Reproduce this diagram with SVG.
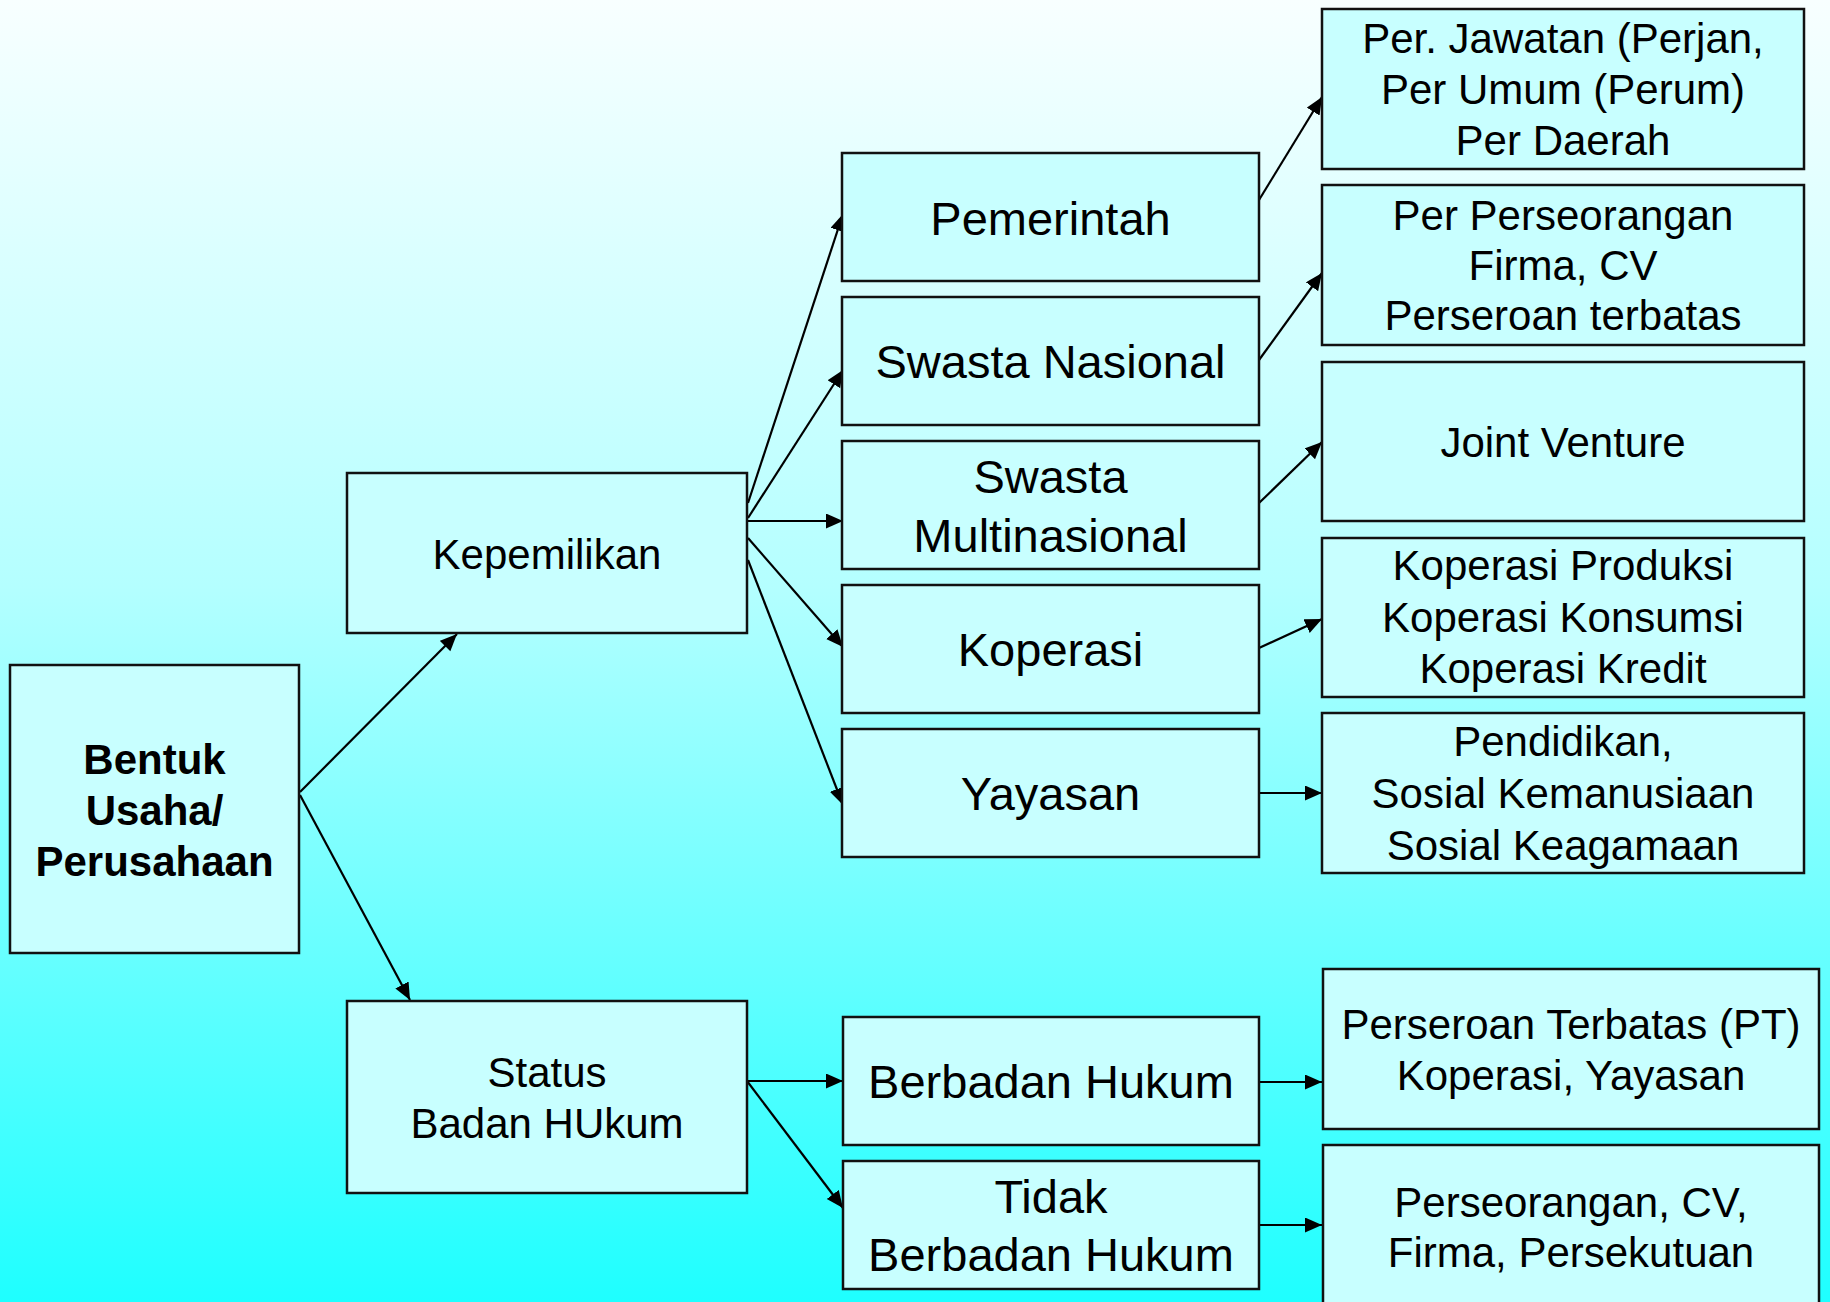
<svg xmlns="http://www.w3.org/2000/svg" width="1830" height="1302" viewBox="0 0 1830 1302">
<style>
.box{fill:#c8ffff;stroke:#111;stroke-width:2.5}
.t{font-family:"Liberation Sans",Arial,sans-serif;fill:#000;text-anchor:middle}
.s{font-size:42px}
.m{font-size:47px}
.b{font-size:42px;font-weight:bold}
.c{stroke:#000;stroke-width:2.2;fill:none;marker-end:url(#ah)}
</style>
<defs>
<linearGradient id="bg" x1="0" y1="0" x2="0" y2="1">
<stop offset="0" stop-color="#f8ffff"/>
<stop offset="0.45" stop-color="#b4ffff"/>
<stop offset="1" stop-color="#1effff"/>
</linearGradient>
<marker id="ah" markerUnits="userSpaceOnUse" markerWidth="18" markerHeight="16" refX="17" refY="7.5" orient="auto">
<path d="M0,0 L17,7.5 L0,15 z" fill="#000"/>
</marker>
</defs>
<rect x="0" y="0" width="1830" height="1302" fill="url(#bg)"/>

<g id="connectors">
<line class="c" x1="300" y1="792" x2="457" y2="634"/>
<line class="c" x1="300" y1="795" x2="410" y2="1000"/>
<line class="c" x1="748" y1="503" x2="843" y2="214"/>
<line class="c" x1="748" y1="518" x2="843" y2="370"/>
<line class="c" x1="748" y1="521" x2="843" y2="521"/>
<line class="c" x1="748" y1="538" x2="843" y2="647"/>
<line class="c" x1="748" y1="560" x2="843" y2="805"/>
<line class="c" x1="1259" y1="200" x2="1322" y2="97"/>
<line class="c" x1="1259" y1="360" x2="1322" y2="273"/>
<line class="c" x1="1259" y1="503" x2="1322" y2="442"/>
<line class="c" x1="1259" y1="648" x2="1322" y2="619"/>
<line class="c" x1="1259" y1="793" x2="1322" y2="793"/>
<line class="c" x1="747" y1="1081" x2="843" y2="1081"/>
<line class="c" x1="747" y1="1081" x2="843" y2="1208"/>
<line class="c" x1="1259" y1="1082" x2="1322" y2="1082"/>
<line class="c" x1="1259" y1="1225" x2="1322" y2="1225"/>
</g>

<g id="bentuk">
<rect class="box" x="10" y="665" width="289" height="288"/>
<text class="t b" x="154.5" y="774">Bentuk</text>
<text class="t b" x="154.5" y="825">Usaha/</text>
<text class="t b" x="154.5" y="876">Perusahaan</text>
</g>

<g id="kepemilikan">
<rect class="box" x="347" y="473" width="400" height="160"/>
<text class="t s" x="547" y="569">Kepemilikan</text>
</g>

<g id="status">
<rect class="box" x="347" y="1001" width="400" height="192"/>
<text class="t s" x="547" y="1087">Status</text>
<text class="t s" x="547" y="1138">Badan HUkum</text>
</g>

<g id="pemerintah">
<rect class="box" x="842" y="153" width="417" height="128"/>
<text class="t m" x="1050.5" y="235">Pemerintah</text>
</g>

<g id="swasta-nasional">
<rect class="box" x="842" y="297" width="417" height="128"/>
<text class="t m" x="1050.5" y="378">Swasta Nasional</text>
</g>

<g id="swasta-multinasional">
<rect class="box" x="842" y="441" width="417" height="128"/>
<text class="t m" x="1050.5" y="493">Swasta</text>
<text class="t m" x="1050.5" y="552">Multinasional</text>
</g>

<g id="koperasi">
<rect class="box" x="842" y="585" width="417" height="128"/>
<text class="t m" x="1050.5" y="666">Koperasi</text>
</g>

<g id="yayasan">
<rect class="box" x="842" y="729" width="417" height="128"/>
<text class="t m" x="1050.5" y="810">Yayasan</text>
</g>

<g id="berbadan-hukum">
<rect class="box" x="843" y="1017" width="416" height="128"/>
<text class="t m" x="1051" y="1098">Berbadan Hukum</text>
</g>

<g id="tidak-berbadan-hukum">
<rect class="box" x="843" y="1161" width="416" height="128"/>
<text class="t m" x="1051" y="1213">Tidak</text>
<text class="t m" x="1051" y="1271">Berbadan Hukum</text>
</g>

<g id="perjan">
<rect class="box" x="1322" y="9" width="482" height="160"/>
<text class="t s" x="1563" y="53">Per. Jawatan (Perjan,</text>
<text class="t s" x="1563" y="104">Per Umum (Perum)</text>
<text class="t s" x="1563" y="155">Per Daerah</text>
</g>

<g id="perseorangan">
<rect class="box" x="1322" y="185" width="482" height="160"/>
<text class="t s" x="1563" y="230">Per Perseorangan</text>
<text class="t s" x="1563" y="280">Firma, CV</text>
<text class="t s" x="1563" y="330">Perseroan terbatas</text>
</g>

<g id="joint-venture">
<rect class="box" x="1322" y="362" width="482" height="159"/>
<text class="t s" x="1563" y="457">Joint Venture</text>
</g>

<g id="koperasi-jenis">
<rect class="box" x="1322" y="538" width="482" height="159"/>
<text class="t s" x="1563" y="580">Koperasi Produksi</text>
<text class="t s" x="1563" y="632">Koperasi Konsumsi</text>
<text class="t s" x="1563" y="683">Koperasi Kredit</text>
</g>

<g id="yayasan-jenis">
<rect class="box" x="1322" y="713" width="482" height="160"/>
<text class="t s" x="1563" y="756">Pendidikan,</text>
<text class="t s" x="1563" y="808">Sosial Kemanusiaan</text>
<text class="t s" x="1563" y="860">Sosial Keagamaan</text>
</g>

<g id="badan-hukum-jenis">
<rect class="box" x="1323" y="969" width="496" height="160"/>
<text class="t s" x="1571" y="1039">Perseroan Terbatas (PT)</text>
<text class="t s" x="1571" y="1090">Koperasi, Yayasan</text>
</g>

<g id="non-badan-hukum-jenis">
<rect class="box" x="1323" y="1145" width="496" height="170"/>
<text class="t s" x="1571" y="1217">Perseorangan, CV,</text>
<text class="t s" x="1571" y="1267">Firma, Persekutuan</text>
</g>
</svg>
